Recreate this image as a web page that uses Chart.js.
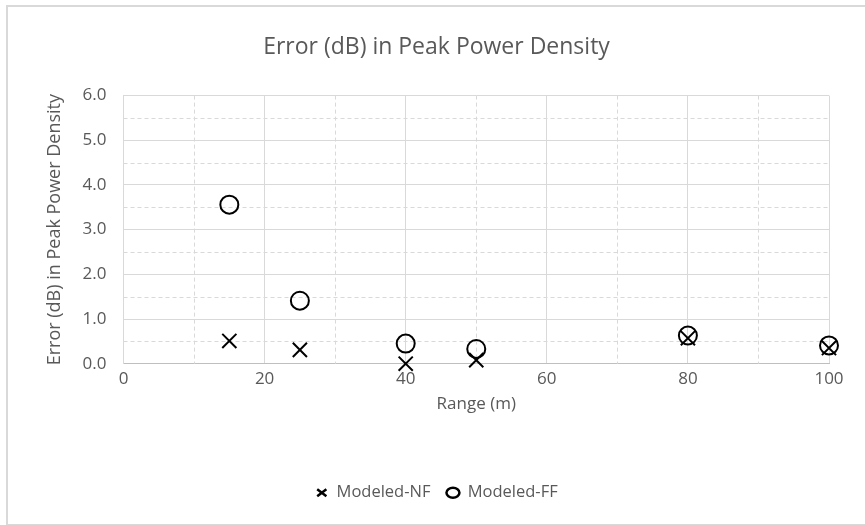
<!DOCTYPE html>
<html>
<head>
<meta charset="utf-8">
<script src="https://cdn.jsdelivr.net/npm/chart.js@4"></script>
<style>
  html, body { margin: 0; padding: 0; background: #fff; }
  #frame {
    position: absolute; left: 6px; top: 5px;
    width: 870px; height: 517px;
    border: 2px solid #d9d9d9; background: #fff;
  }
  #wrap { position: absolute; left: -8px; top: -7px; width: 865px; height: 525px; }
</style>
</head>
<body>
<div id="frame"><div id="wrap"><canvas id="chart" width="865" height="525"></canvas></div></div>
<script>
// Range (m)
const rangeNF = [15, 25, 40, 50, 80, 100];
const errorNF = [0.51, 0.31, 0.0, 0.08, 0.57, 0.35];
const rangeFF = [15, 25, 40, 50, 80, 100];
const errorFF = [3.56, 1.41, 0.45, 0.33, 0.63, 0.41];

const xMinorTicks = [10, 30, 50, 70, 90];
const yMinorTicks = [0.5, 1.5, 2.5, 3.5, 4.5, 5.5];

const textColor = "#595959";
const gridColor = "#d9d9d9";
const fontFamily = "'Open Sans', sans-serif";

// dashed minor gridlines, positioned with the chart's own scales
const minorGrid = {
  id: "minorGrid",
  beforeDatasetsDraw(chart) {
    const { ctx, chartArea, scales } = chart;
    ctx.save();
    ctx.strokeStyle = gridColor;
    ctx.lineWidth = 1;
    ctx.setLineDash([4, 3]);
    xMinorTicks.forEach((v) => {
      const px = Math.round(scales.x.getPixelForValue(v)) + 0.5;
      ctx.beginPath();
      ctx.moveTo(px, chartArea.top);
      ctx.lineTo(px, chartArea.bottom);
      ctx.stroke();
    });
    yMinorTicks.forEach((v) => {
      const py = Math.round(scales.y.getPixelForValue(v)) + 0.5;
      ctx.beginPath();
      ctx.moveTo(chartArea.left, py);
      ctx.lineTo(chartArea.right, py);
      ctx.stroke();
    });
    ctx.restore();
  },
};

const toPoints = (xs, ys) => xs.map((x, i) => ({ x: x, y: ys[i] }));

new Chart(document.getElementById("chart").getContext("2d"), {
  type: "scatter",
  data: {
    datasets: [
      {
        label: "Modeled-NF",
        data: toPoints(rangeNF, errorNF),
        pointStyle: "crossRot",
        pointRadius: 10,
        borderColor: "#000",
        backgroundColor: "#000",
        pointBorderWidth: 2,
        clip: false,
      },
      {
        label: "Modeled-FF",
        data: toPoints(rangeFF, errorFF),
        pointStyle: "circle",
        pointRadius: 9,
        borderColor: "#000",
        backgroundColor: "rgba(0,0,0,0)",
        pointBorderWidth: 2,
        clip: false,
      },
    ],
  },
  options: {
    responsive: false,
    animation: false,
    layout: { padding: { left: 44, right: 36, top: 12, bottom: 14 } },
    plugins: {
      title: {
        display: true,
        text: "Error (dB) in Peak Power Density",
        color: textColor,
        font: { family: fontFamily, size: 23, weight: "normal" },
        padding: { top: 22, bottom: 34 },
      },
      legend: {
        position: "bottom",
        labels: {
          usePointStyle: true,
          pointStyleWidth: 13,
          boxHeight: 7,
          color: textColor,
          font: { family: fontFamily, size: 16.5 },
          padding: 16,
          generateLabels(chart) {
            return chart.data.datasets.map((ds, i) => ({
              text: ds.label,
              fillStyle: "rgba(0,0,0,0)",
              strokeStyle: "#000",
              lineWidth: 2.5,
              pointStyle: ds.pointStyle,
              fontColor: textColor,
              datasetIndex: i,
            }));
          },
        },
      },
      tooltip: { enabled: false },
    },
    scales: {
      x: {
        type: "linear",
        min: 0,
        max: 100,
        ticks: { stepSize: 20, color: textColor, font: { family: fontFamily, size: 17 }, padding: 5 },
        grid: { color: gridColor, drawTicks: false },
        border: { color: "#bfbfbf" },
        title: {
          display: true,
          text: "Range (m)",
          color: textColor,
          font: { family: fontFamily, size: 17 },
          padding: { top: 0, bottom: 54 },
        },
      },
      y: {
        min: 0,
        max: 6,
        ticks: {
          stepSize: 1,
          color: textColor,
          font: { family: fontFamily, size: 17 },
          padding: 17,
          callback: (v) => v.toFixed(1),
        },
        grid: { color: gridColor, drawTicks: false },
        border: { color: gridColor },
        title: {
          display: true,
          text: "Error (dB) in Peak Power Density",
          color: textColor,
          font: { family: fontFamily, size: 18 },
          padding: { top: 0, bottom: 0 },
        },
      },
    },
  },
  plugins: [minorGrid],
});
</script>
</body>
</html>
